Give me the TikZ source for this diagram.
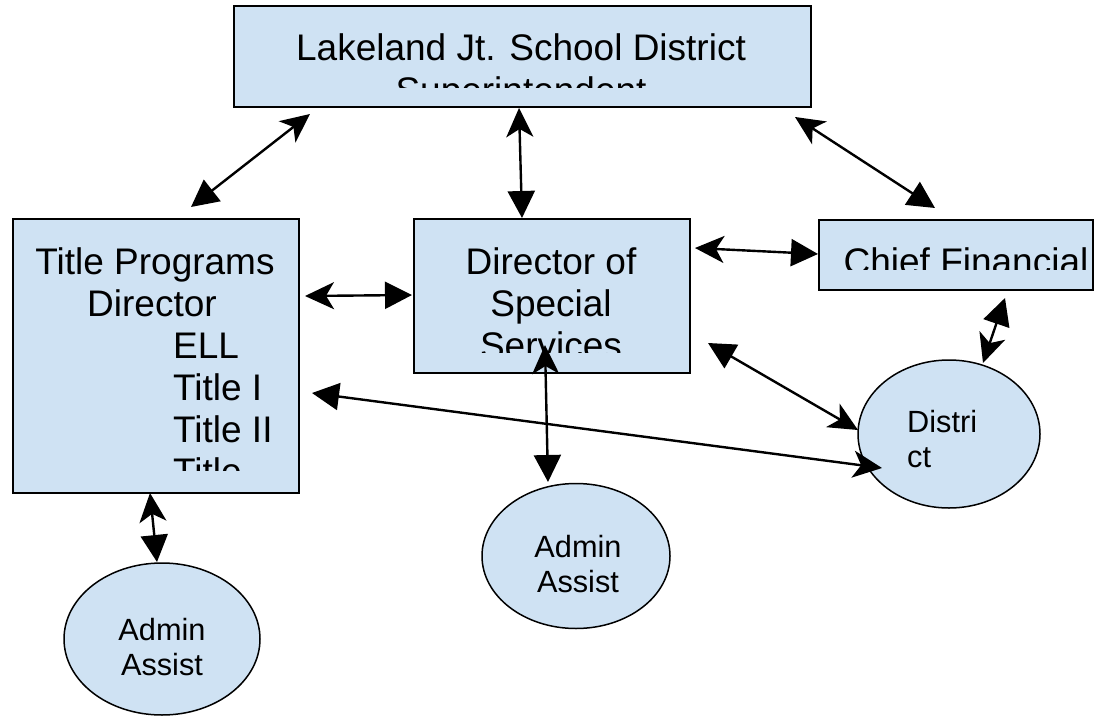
\documentclass[tikz,border=0pt]{standalone}
\usepackage{fontspec}
\setmainfont{Liberation Sans}
\usetikzlibrary{shapes.geometric,arrows.meta}
\definecolor{boxblue}{HTML}{CFE2F3}
\begin{document}
\begin{tikzpicture}[x=1pt,y=-1pt,
  box/.style={draw=black, line width=1.8pt, fill=boxblue, inner sep=0pt},
  oval/.style={draw=black, line width=1.5pt, fill=boxblue, ellipse, inner sep=0pt},
  bigtxt/.style={inner sep=0pt, anchor=base, font=\fontsize{37}{42}\selectfont},
  bigtxtl/.style={bigtxt, anchor=base west},
  smalltxt/.style={inner sep=0pt, anchor=base, font=\fontsize{30.7}{35}\selectfont},
  smalltxtl/.style={smalltxt, anchor=base west},
  conn/.style={line width=2.4pt, {Stealth[length=29pt,width=27pt,inset=8pt]}-{Triangle[length=27pt,width=27pt]}}]
\useasboundingbox (0,0) rectangle (1108,717);

% boxes
\node[box, anchor=north west, minimum width=577pt, minimum height=101pt] (sup) at (233,5) {};
\node[box, anchor=north west, minimum width=286pt, minimum height=274pt] (title) at (12,218) {};
\node[box, anchor=north west, minimum width=276pt, minimum height=154pt] (dss) at (413,218) {};
\node[box, anchor=north west, minimum width=274pt, minimum height=70pt] (cfo) at (818,219) {};

% box texts (clipped like the reference)
\begin{scope}
  \clip (233,5) rectangle (810,87);
  \node[bigtxt] (supt1) at (521,61) {Lakeland Jt. School District};
  \node[bigtxt] (supt2) at (521,103) {Superintendent};
\end{scope}
\begin{scope}
  \clip (12,218) rectangle (298,470);
  \node[bigtxt] (tt1) at (155,274) {Title Programs};
  \node[bigtxt] (tt2) at (152,316) {Director};
  \node[bigtxtl] (tt3) at (173,358) {ELL};
  \node[bigtxtl] (tt4) at (173,400) {Title I};
  \node[bigtxtl] (tt5) at (173,442) {Title II};
  \node[bigtxtl] (tt6) at (173,484) {Title};
\end{scope}
\begin{scope}
  \clip (413,218) rectangle (689,352);
  \node[bigtxt] (ds1) at (551,274) {Director of};
  \node[bigtxt] (ds2) at (551,316) {Special};
  \node[bigtxt] (ds3) at (551,358) {Services};
\end{scope}
\begin{scope}
  \clip (818,219) rectangle (1092,269);
  \node[bigtxt] (cf1) at (966,274) {Chief Financial};
\end{scope}

% ellipses
\node[oval, minimum width=182pt, minimum height=148pt] (dist) at (949,434) {};
\node[smalltxtl] (dt1) at (907,432) {Distri};
\node[smalltxtl] (dt2) at (907,467) {ct};
\node[oval, minimum width=188pt, minimum height=145pt] (aa2) at (576,556) {};
\node[smalltxt] (a2t1) at (578,557) {Admin};
\node[smalltxt] (a2t2) at (578,592) {Assist};
\node[oval, minimum width=196pt, minimum height=152pt] (aa1) at (162,639) {};
\node[smalltxt] (a1t1) at (162,640) {Admin};
\node[smalltxt] (a1t2) at (162,675) {Assist};

% connector end points
\coordinate (c1a) at (310,114); \coordinate (c1b) at (191,207);
\coordinate (c2a) at (519,108); \coordinate (c2b) at (522,218);
\coordinate (c3a) at (795,117); \coordinate (c3b) at (935,208);
\coordinate (c4a) at (305,296); \coordinate (c4b) at (412,295);
\coordinate (c5a) at (695,248); \coordinate (c5b) at (818,254);
\coordinate (c6a) at (858,430); \coordinate (c6b) at (708,343);
\coordinate (c7a) at (882,468); \coordinate (c7b) at (312,393);
\coordinate (c8a) at (983,363); \coordinate (c8b) at (1005,298);
\coordinate (c9a) at (150,493); \coordinate (c9b) at (157,562);
\coordinate (c10a) at (545,345); \coordinate (c10b) at (548,482);

\draw[conn] (c1a) -- (c1b);
\draw[conn] (c2a) -- (c2b);
\draw[conn] (c3a) -- (c3b);
\draw[conn] (c4a) -- (c4b);
\draw[conn] (c5a) -- (c5b);
\draw[conn] (c6a) -- (c6b);
\draw[conn] (c7a) -- (c7b);
\draw[conn] (c8a) -- (c8b);
\draw[conn] (c9a) -- (c9b);
\draw[conn] (c10a) -- (c10b);
\end{tikzpicture}
\end{document}
